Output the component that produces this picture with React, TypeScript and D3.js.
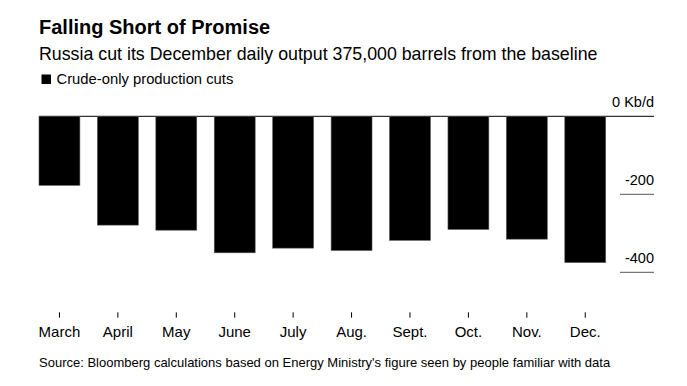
import React from "react";
import * as d3 from "d3";

const categories = ["March", "April", "May", "June", "July", "Aug.", "Sept.", "Oct.", "Nov.", "Dec."];
const cuts = [-177, -279, -292, -350, -338, -344, -318, -290, -315, -375];
const yTicks = [0, -200, -400];

const title = "Falling Short of Promise";
const subtitle = "Russia cut its December daily output 375,000 barrels from the baseline";
const legendLabel = "Crude-only production cuts";
const source = "Source: Bloomberg calculations based on Energy Ministry's figure seen by people familiar with data";

const W = 687;
const H = 386;
const FONT = "'Liberation Sans', Arial, sans-serif";

export default function App() {
  const x = d3.scaleBand<string>().domain(categories).range([39, 605.7]).paddingInner(0.3).paddingOuter(0);
  const y = d3.scaleLinear().domain([-400, 0]).range([272.3, 116.3]);
  const bw = x.bandwidth();

  return (
    <div>
      <style>{`body{margin:0;background:#fff}`}</style>
      <svg width={W} height={H} style={{ display: "block", fontFamily: FONT }}>
        <rect width={W} height={H} fill="#fff" />
        <text x={39} y={34.3} fontSize={20} fontWeight="bold" fill="#000">
          {title}
        </text>
        <text x={39} y={60} fontSize={17.8} fill="#000">
          {subtitle}
        </text>
        <rect x={41.5} y={74.5} width={9.5} height={9.5} fill="#000" />
        <text x={56.5} y={84} fontSize={14.8} fill="#000">
          {legendLabel}
        </text>

        <line x1={39} x2={654} y1={y(0)} y2={y(0)} stroke="#000" strokeWidth={1} />
        {yTicks.slice(1).map((t) => (
          <line key={t} x1={620} x2={654} y1={y(t)} y2={y(t)} stroke="#777" strokeWidth={1.2} />
        ))}
        {yTicks.map((t) => (
          <text key={"l" + t} x={654} y={y(t) - 9.5} fontSize={14.5} textAnchor="end" fill="#000">
            {t === 0 ? "0 Kb/d" : String(t)}
          </text>
        ))}

        {categories.map((c, i) => (
          <rect
            key={c}
            x={x(c)!}
            y={y(0)}
            width={bw}
            height={y(cuts[i]) - y(0)}
            fill="#000"
            stroke="#555"
            strokeWidth={0.6}
          />
        ))}

        {categories.map((c) => {
          const cx = x(c)! + bw / 2;
          return (
            <g key={"t" + c}>
              <line x1={cx} x2={cx} y1={312.3} y2={317.7} stroke="#000" strokeWidth={1} />
              <text x={cx} y={336.7} fontSize={15} textAnchor="middle" fill="#000">
                {c}
              </text>
            </g>
          );
        })}

        <text x={39} y={366.7} fontSize={13} fill="#000">
          {source}
        </text>
      </svg>
    </div>
  );
}
